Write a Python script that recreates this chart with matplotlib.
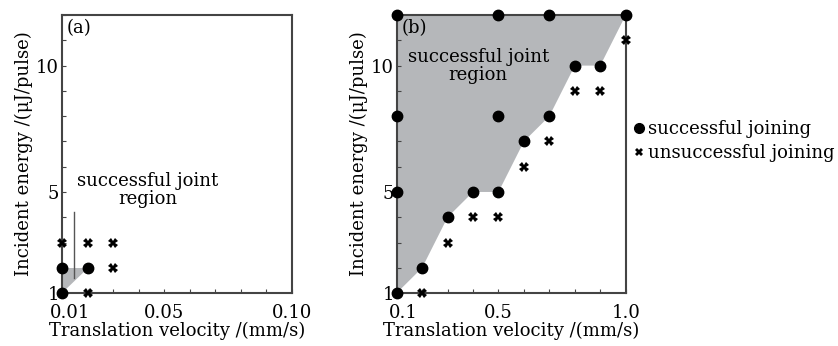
import matplotlib
matplotlib.use("Agg")
import matplotlib.pyplot as plt
import matplotlib.transforms as mtransforms
from matplotlib.lines import Line2D

plt.rcParams['font.family'] = ['DejaVu Serif']
plt.rcParams['mathtext.fontset'] = 'dejavuserif'

# panel (a): low velocity
a_ok_x = [0.01, 0.01, 0.02]
a_ok_y = [1, 2, 2]
a_bad_x = [0.01, 0.02, 0.03, 0.03, 0.02]
a_bad_y = [3, 3, 3, 2, 1]
a_region_x = [0.01, 0.01, 0.02]
a_region_y = [1, 2, 2]

# panel (b): high velocity
b_ok_x = [0.1, 0.5, 0.7, 1.0, 0.1, 0.1, 0.1, 0.2, 0.3, 0.4, 0.5, 0.5, 0.6, 0.7, 0.8, 0.9]
b_ok_y = [12, 12, 12, 12, 8, 5, 1, 2, 4, 5, 5, 8, 7, 8, 10, 10]
b_bad_x = [0.2, 0.3, 0.4, 0.5, 0.6, 0.7, 0.8, 0.9, 1.0]
b_bad_y = [1, 3, 4, 4, 6, 7, 9, 9, 11]
b_region_x = [0.1, 0.2, 0.3, 0.4, 0.5, 0.6, 0.7, 0.8, 0.9, 1.0, 0.1]
b_region_y = [1, 2, 4, 5, 5, 7, 8, 10, 10, 12, 12]

grey = '#b5b7ba'
fs = 13

fig = plt.figure(figsize=(8.38, 3.46), dpi=100)
ax1 = fig.add_axes([0.074, 0.153, 0.2745, 0.8035])
ax2 = fig.add_axes([0.4734, 0.153, 0.2733, 0.8035])

def style(ax, xlim, xticks, xminor, xlabels, tag, nudge):
    ax.set_xlim(*xlim)
    ax.set_ylim(1, 12)
    ax.set_xticks(xminor, minor=True)
    ax.set_xticks(xticks)
    ax.set_xticklabels(xlabels)
    ax.set_yticks(range(1, 13), minor=True)
    ax.set_yticks([1, 5, 10])
    ax.tick_params(which='both', direction='in', length=3, width=0.8,
                   color='#444444', labelsize=fs)
    ax.tick_params(axis='x', pad=8)
    ax.tick_params(axis='y', pad=2)
    for s in ax.spines.values():
        s.set_linewidth(1.5)
        s.set_color('#444444')
    ax.set_xlabel('Translation velocity /(mm/s)', fontsize=fs, labelpad=0)
    ax.set_ylabel('Incident energy /(μJ/pulse)', fontsize=fs, labelpad=2)
    ax.text(0.02, 0.985, tag, transform=ax.transAxes, fontsize=fs,
            ha='left', va='top')
    # first x label sits a little to the right, clear of the "1"
    lab = ax.get_xticklabels()[0]
    shift = mtransforms.ScaledTranslation(nudge / 100, 0, fig.dpi_scale_trans)
    lab.set_transform(lab.get_transform() + shift)

style(ax1, (0.01, 0.10), [0.01, 0.05, 0.10],
      [0.01 * i for i in range(1, 11)], ['0.01', '0.05', '0.10'], '(a)', 8)
style(ax2, (0.1, 1.0), [0.1, 0.5, 1.0],
      [0.1 * i for i in range(1, 11)], ['0.1', '0.5', '1.0'], '(b)', 7)

ax1.fill(a_region_x, a_region_y, color=grey, lw=0, zorder=1)
ax1.plot([0.0148, 0.0148], [1.6, 4.2], color='#555555', lw=1, zorder=2)
ax1.text(0.0436, 5.07, 'successful joint\nregion', fontsize=fs,
         ha='center', va='center', linespacing=1.0)
ax1.plot(a_ok_x, a_ok_y, 'o', color='black', ms=7.5, clip_on=False, zorder=5)
ax1.plot(a_bad_x, a_bad_y, 'X', color='black', ms=6.5, mew=0, clip_on=False, zorder=5)

ax2.fill(b_region_x, b_region_y, color=grey, lw=0, zorder=1)
ax2.text(0.42, 10.0, 'successful joint\nregion', fontsize=fs,
         ha='center', va='center', linespacing=1.0)
ax2.plot(b_ok_x, b_ok_y, 'o', color='black', ms=7.5, clip_on=False, zorder=5)
ax2.plot(b_bad_x, b_bad_y, 'X', color='black', ms=6.5, mew=0, clip_on=False, zorder=5)

handles = [Line2D([], [], ls='', marker='o', color='black', ms=7),
           Line2D([], [], ls='', marker='X', color='black', ms=6, mew=0)]
fig.legend(handles, ['successful joining', 'unsuccessful joining'],
           loc='upper left', bbox_to_anchor=(0.757, 0.652), frameon=False,
           fontsize=fs, handlelength=0.5, handletextpad=0.25,
           labelspacing=0.3, borderpad=0, borderaxespad=0)

fig.savefig('out.png', dpi=100)
